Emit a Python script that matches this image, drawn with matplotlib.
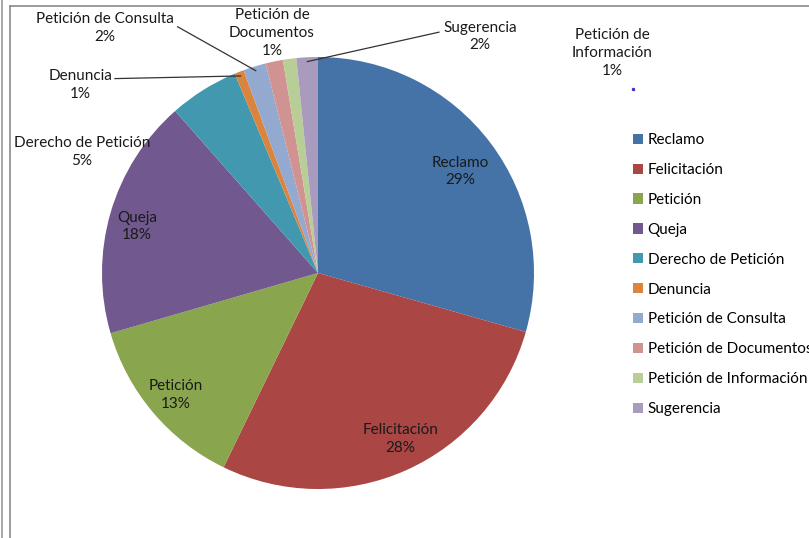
import matplotlib.pyplot as plt
import numpy as np
from matplotlib.lines import Line2D

# share of requests by type (percent)
categories = ['Reclamo', 'Felicitación', 'Petición', 'Queja', 'Derecho de Petición',
              'Denuncia', 'Petición de Consulta', 'Petición de Documentos',
              'Petición de Información', 'Sugerencia']
values = [29.4, 27.8, 13.3, 18.0, 5.2, 0.7, 1.7, 1.3, 1.0, 1.6]
# label text as it is wrapped on the chart
label_names = ['Reclamo', 'Felicitación', 'Petición', 'Queja', 'Derecho de Petición',
               'Denuncia', 'Petición de Consulta', 'Petición de\nDocumentos',
               'Petición de\nInformación', 'Sugerencia']

colors = ['#4572A7', '#AA4643', '#89A54E', '#71588F', '#4198AF',
          '#DB843D', '#93A9CF', '#D19392', '#B9CD96', '#A99BBD']

plt.rcParams['font.family'] = ['Lato', 'DejaVu Sans']

fig = plt.figure(figsize=(8.09, 5.38), dpi=100)
W, H = 809, 538
cx, cy, R = 318, 273, 216
ax = fig.add_axes([(cx - R) / W, (H - cy - R) / H, 2 * R / W, 2 * R / H])

wedges, _ = ax.pie(values, colors=colors, startangle=90, counterclock=False,
                   radius=1.0, wedgeprops=dict(linewidth=0))
ax.set_xlim(-1, 1)
ax.set_ylim(-1, 1)
ax.set_aspect('equal')

# label positions in pie units (layout only)
label_pos = [(0.657, 0.47), (0.38, -0.77), (-0.657, -0.565), (-0.838, 0.215),
             (-1.093, 0.56), (-1.10, 0.87), (-0.986, 1.135), (-0.213, 1.11),
             (1.361, 1.02), (0.75, 1.095)]
leader = {5: (-0.94, 0.90), 6: (-0.65, 1.14), 9: (0.56, 1.115)}

total = sum(values)
for i, (name, v) in enumerate(zip(label_names, values)):
    txt = f'{name}\n{round(v / total * 100)}%'
    x, y = label_pos[i]
    ax.text(x, y, txt, ha='center', va='center', fontsize=11, color='#1a1a1a',
            linespacing=1.35, clip_on=False)
    if i in leader:
        w = wedges[i]
        mid = np.deg2rad((w.theta1 + w.theta2) / 2)
        ex, ey = np.cos(mid) * 0.98, np.sin(mid) * 0.98
        lx, ly = leader[i]
        ax.add_line(Line2D([lx, ex], [ly, ey], color='#333333', lw=0.9, clip_on=False))

# "Petición de Información" leader collapsed to a dot
ax.plot([1.46], [0.85], marker='o', markersize=1.5, color='#3333cc', clip_on=False)

ax.legend(wedges, categories, loc='upper left', bbox_to_anchor=(627 / W, 1 - 127 / H),
          bbox_transform=fig.transFigure, frameon=False, fontsize=11,
          handlelength=0.65, handleheight=0.65, handletextpad=0.3, labelspacing=1.04,
          borderaxespad=0)

# chart area border and spreadsheet edge
fig.add_artist(Line2D([1.5 / W, 1.5 / W], [0, 1], color='#9a9a9a', lw=1.2))
fig.add_artist(Line2D([9.5 / W, 9.5 / W], [0, 1 - 6 / H], color='#8a8a8a', lw=1.2))
fig.add_artist(Line2D([9.5 / W, 1], [1 - 6 / H, 1 - 6 / H], color='#8a8a8a', lw=1.2))

fig.savefig('out.png', dpi=100)
